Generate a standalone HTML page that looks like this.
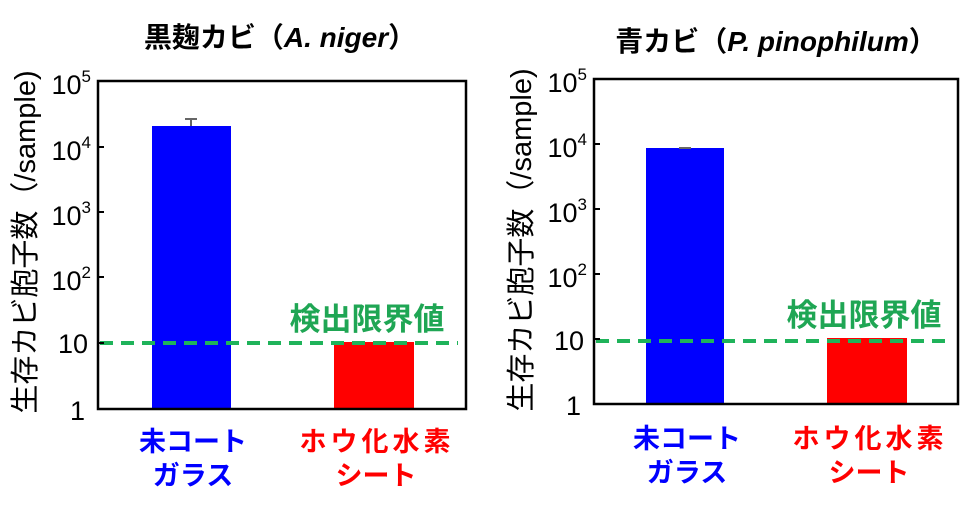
<!DOCTYPE html>
<html><head><meta charset="utf-8"><style>
html,body{margin:0;padding:0;background:#fff;width:969px;height:512px;overflow:hidden}
svg{display:block}
text{font-family:"Liberation Sans","Noto Sans CJK JP",sans-serif}
.t{font-size:27px;fill:#000}
.s{font-size:17px}
.ttl{font-size:28px;font-weight:bold;fill:#000}
.cat{font-size:27px;font-weight:bold}
.lod{font-size:31px;font-weight:bold;fill:#1fa654}
.yl{font-size:29px;fill:#000}
</style></head><body>
<svg width="969" height="512" viewBox="0 0 969 512">
<!-- LEFT -->
<text class="ttl" x="280" y="47" text-anchor="middle">黒麹カビ（<tspan font-style="italic">A. niger</tspan>）</text>
<rect x="152" y="126" width="79" height="283" fill="#0000ff"/>
<line x1="191" y1="119" x2="191" y2="126" stroke="#666" stroke-width="2"/>
<line x1="185" y1="119" x2="197" y2="119" stroke="#666" stroke-width="2"/>
<rect x="334" y="342" width="80" height="67" fill="#ff0000"/>
<line x1="100" y1="343" x2="458" y2="343" stroke="#1fb35a" stroke-width="4" stroke-dasharray="13,8"/>
<rect x="98" y="81" width="368" height="328" fill="none" stroke="#000" stroke-width="2.5"/>
<g stroke="#000" stroke-width="2">
<line x1="98" y1="147" x2="104" y2="147"/><line x1="98" y1="212" x2="104" y2="212"/><line x1="98" y1="277" x2="104" y2="277"/><line x1="98" y1="343" x2="104" y2="343"/>
</g>
<g class="t" text-anchor="end">
<text x="91" y="94">10<tspan class="s" dy="-12">5</tspan></text>
<text x="91" y="160">10<tspan class="s" dy="-12">4</tspan></text>
<text x="91" y="225">10<tspan class="s" dy="-12">3</tspan></text>
<text x="91" y="290">10<tspan class="s" dy="-12">2</tspan></text>
<text x="88" y="353">10</text>
<text x="85" y="420">1</text>
</g>
<text class="yl" transform="translate(35,242) rotate(-90)" text-anchor="middle">生存カビ胞子数（/sample)</text>
<text class="lod" x="367" y="330" text-anchor="middle">検出限界値</text>
<text class="cat" fill="#0000ff" x="193" y="451" text-anchor="middle">未コート</text>
<text class="cat" fill="#0000ff" x="193" y="485" text-anchor="middle">ガラス</text>
<text class="cat" fill="#ff0000" x="377" y="451" text-anchor="middle" letter-spacing="4">ホウ化水素</text>
<text class="cat" fill="#ff0000" x="376" y="485" text-anchor="middle">シート</text>

<!-- RIGHT -->
<text class="ttl" x="776" y="51" text-anchor="middle">青カビ（<tspan font-style="italic">P. pinophilum</tspan>）</text>
<rect x="646" y="148" width="78" height="256" fill="#0000ff"/>
<line x1="679" y1="148" x2="691" y2="148" stroke="#666" stroke-width="2"/>
<rect x="827" y="338" width="80" height="66" fill="#ff0000"/>
<line x1="596" y1="341" x2="950" y2="341" stroke="#1fb35a" stroke-width="4" stroke-dasharray="13,8"/>
<rect x="594" y="79" width="364" height="325" fill="none" stroke="#000" stroke-width="2.5"/>
<g stroke="#000" stroke-width="2">
<line x1="594" y1="144" x2="600" y2="144"/><line x1="594" y1="209" x2="600" y2="209"/><line x1="594" y1="274" x2="600" y2="274"/><line x1="594" y1="339" x2="600" y2="339"/>
</g>
<g class="t" text-anchor="end">
<text x="587" y="92">10<tspan class="s" dy="-12">5</tspan></text>
<text x="587" y="157">10<tspan class="s" dy="-12">4</tspan></text>
<text x="587" y="222">10<tspan class="s" dy="-12">3</tspan></text>
<text x="587" y="287">10<tspan class="s" dy="-12">2</tspan></text>
<text x="584" y="350">10</text>
<text x="581" y="415">1</text>
</g>
<text class="yl" transform="translate(531,240) rotate(-90)" text-anchor="middle">生存カビ胞子数（/sample)</text>
<text class="lod" x="864" y="326" text-anchor="middle">検出限界値</text>
<text class="cat" fill="#0000ff" x="687" y="448" text-anchor="middle">未コート</text>
<text class="cat" fill="#0000ff" x="687" y="482" text-anchor="middle">ガラス</text>
<text class="cat" fill="#ff0000" x="870" y="448" text-anchor="middle" letter-spacing="4">ホウ化水素</text>
<text class="cat" fill="#ff0000" x="869" y="482" text-anchor="middle">シート</text>
</svg>
</body></html>
